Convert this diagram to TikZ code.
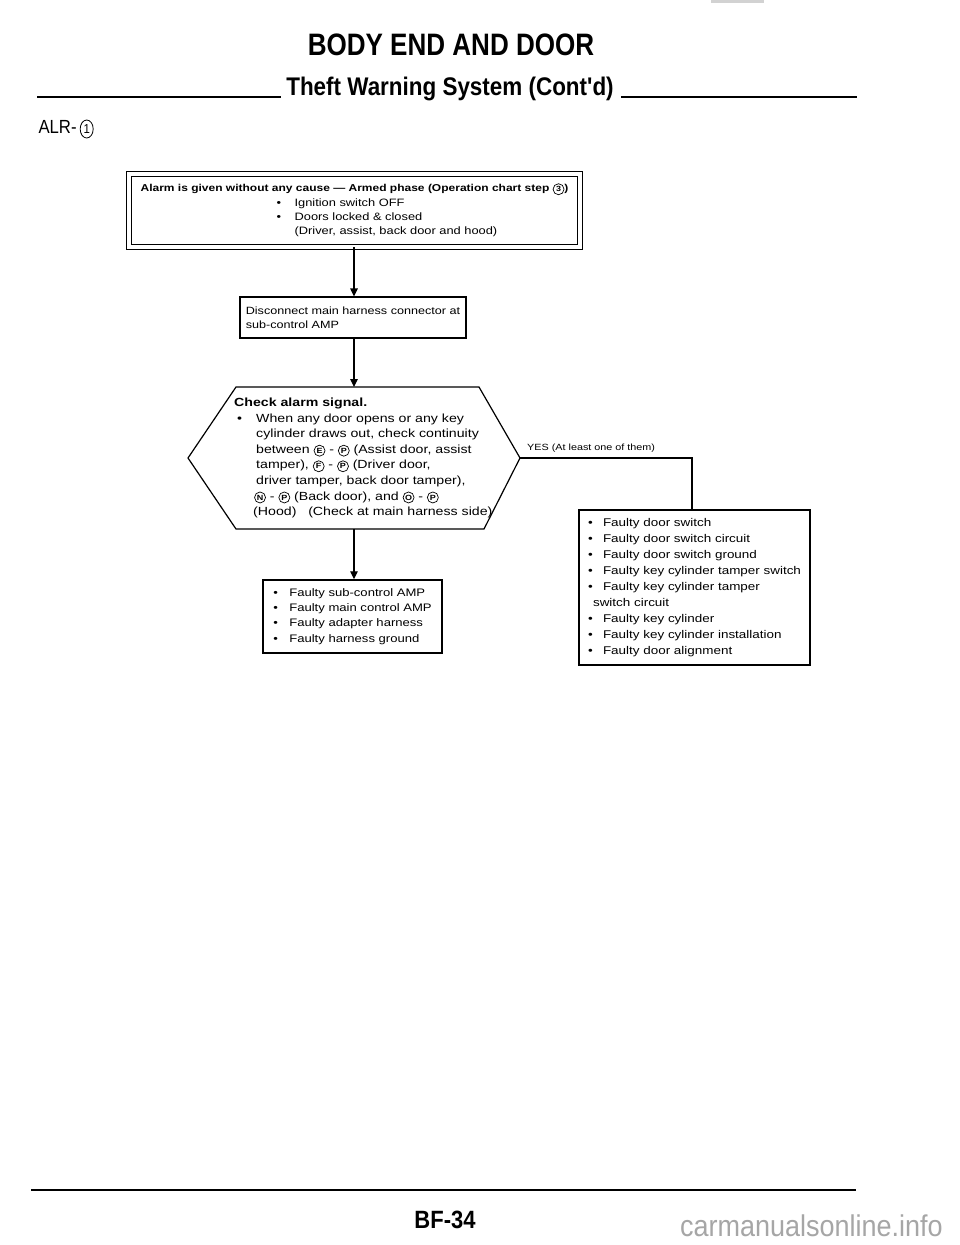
\documentclass[tikz,border=0pt]{standalone}
\usepackage{fontspec}
\setmainfont{Liberation Sans}
\newfontfamily\bodyfont[FakeStretch=1.2]{Liberation Sans}
\newfontfamily\headfont[FakeStretch=0.88]{Liberation Sans}
\newfontfamily\titlefont[FakeStretch=0.84]{Liberation Sans}
\newfontfamily\wmfont[FakeStretch=0.9]{Liberation Sans}
\usetikzlibrary{arrows.meta,shapes.geometric}
\newcommand\fs[2]{\fontsize{#1}{#2}\selectfont}
\tikzset{
  box/.style={draw, line width=1.2pt, inner sep=0pt, align=left},
  arr/.style={line width=1.2pt, -{Triangle[length=8pt,width=7.5pt]}},
  conn/.style={line width=1.2pt},
  rulel/.style={line width=2pt},
  circ/.style={circle, draw, line width=0.7pt, inner sep=0pt, minimum size=11pt, font=\bodyfont\bfseries\fs{7.5}{7.5}},
  bigcirc/.style={ellipse, draw, line width=0.8pt, inner sep=0pt, minimum width=13pt, minimum height=18pt, font=\headfont\fs{13}{13}},
}
\newcommand\cl[1]{\tikz[baseline=(cq.base)]\node[circ](cq){#1};}
\newcommand\bcl[1]{\tikz[baseline=(cq.base)]\node[bigcirc](cq){#1};}
\newcommand\bul[1]{\makebox[#1][l]{\textbullet}}
\begin{document}
\begin{tikzpicture}[x=1pt,y=-1pt]
\useasboundingbox (0,0) rectangle (960,1245);
\fill[white] (0,0) rectangle (960,1245);
\fill[gray!35] (711,0) rectangle (764,2.5);

% headings
\node[font=\titlefont\bfseries\fs{31}{31}] (title) at (451,45) {BODY END AND DOOR};
\node[font=\headfont\bfseries\fs{25.5}{25.5}, anchor=base] (sub) at (450,95) {Theft Warning System (Cont'd)};
\draw[rulel] (37,97) -- (281,97);
\draw[rulel] (621,97) -- (857,97);
\node[font=\headfont\fs{19}{19}, anchor=west] (alr) at (35,129) {ALR-\,\bcl{1}};

% box 1
\node[box, double, double distance=4pt, line width=1pt, minimum width=451pt, minimum height=73pt,
      font=\bodyfont\fs{10.7}{14.2}] (b1) at (354.5,210)
 {{\bfseries\fs{10}{14.2}Alarm is given without any cause — Armed phase (Operation chart step \cl{3})}\\
  \hspace*{136pt}\bul{18pt}Ignition switch OFF\\
  \hspace*{136pt}\bul{18pt}Doors locked \& closed\\
  \hspace*{154pt}(Driver, assist, back door and hood)};

% box 2
\node[box, minimum width=226pt, minimum height=41pt, font=\bodyfont\fs{10.5}{14.5}] (b2) at (353,317.5)
 {Disconnect main harness connector at\\sub-control AMP};

% hexagon
\coordinate (htl) at (236,387);
\coordinate (htr) at (479,387);
\coordinate (hr)  at (520,458);
\coordinate (hbr) at (484,529);
\coordinate (hbl) at (236,529);
\coordinate (hl)  at (188,458);
\coordinate (htop) at (354,387);
\coordinate (hbot) at (354,529);
\draw[line width=1.2pt, line join=miter] (htl) -- (htr) -- (hr) -- (hbr) -- (hbl) -- (hl) -- cycle;
\node[align=left, inner sep=0pt, anchor=west, font=\bodyfont\fs{11.8}{15.6}] (htext) at (234,458)
 {{\bfseries Check alarm signal.}\\
  \hspace*{3pt}\bul{19pt}When any door opens or any key\\
  \hspace*{22pt}cylinder draws out, check continuity\\
  \hspace*{22pt}between \cl{E} - \cl{P} (Assist door, assist\\
  \hspace*{22pt}tamper), \cl{F} - \cl{P} (Driver door,\\
  \hspace*{22pt}driver tamper, back door tamper),\\
  \hspace*{20pt}\cl{N} - \cl{P} (Back door), and \cl{O} - \cl{P}\\
  \hspace*{19pt}(Hood)\quad(Check at main harness side)};

% box 3
\node[box, line width=2pt, minimum width=231pt, minimum height=155pt, font=\bodyfont\fs{11.2}{16}] (b3) at (694.5,587.5)
 {\bul{15pt}Faulty door switch\\
  \bul{15pt}Faulty door switch circuit\\
  \bul{15pt}Faulty door switch ground\\
  \bul{15pt}Faulty key cylinder tamper switch\\
  \bul{15pt}Faulty key cylinder tamper\\
  \hspace*{5pt}switch circuit\\
  \bul{15pt}Faulty key cylinder\\
  \bul{15pt}Faulty key cylinder installation\\
  \bul{15pt}Faulty door alignment};

% box 4
\node[box, line width=1.5pt, minimum width=179pt, minimum height=73pt, font=\bodyfont\fs{10.9}{15.3}] (b4) at (352.5,616.5)
 {\bul{16pt}Faulty sub-control AMP\\
  \bul{16pt}Faulty main control AMP\\
  \bul{16pt}Faulty adapter harness\\
  \bul{16pt}Faulty harness ground};

% connectors
\draw[arr] (b1.south -| htop) -- (b2.north -| htop);
\draw[arr] (b2.south -| htop) -- (htop);
\draw[arr] (hbot) -- (b4.north -| hbot);
\coordinate (ycorner) at (692,458);
\draw[conn] (hr) -- (ycorner) -- (ycorner |- b3.north);
\node[anchor=west, inner sep=0pt, font=\bodyfont\fs{9}{9}] (yes) at (527,448) {YES (At least one of them)};

% footer
\draw[line width=2.5pt] (31,1190) -- (856,1190);
\node[font=\headfont\bfseries\fs{25}{25}] (page) at (445,1220) {BF-34};
\node[font=\wmfont\fs{30}{30}, text=gray!70, anchor=base east, inner sep=0pt] (wm) at (943,1236) {carmanualsonline.info};
\end{tikzpicture}
\end{document}
